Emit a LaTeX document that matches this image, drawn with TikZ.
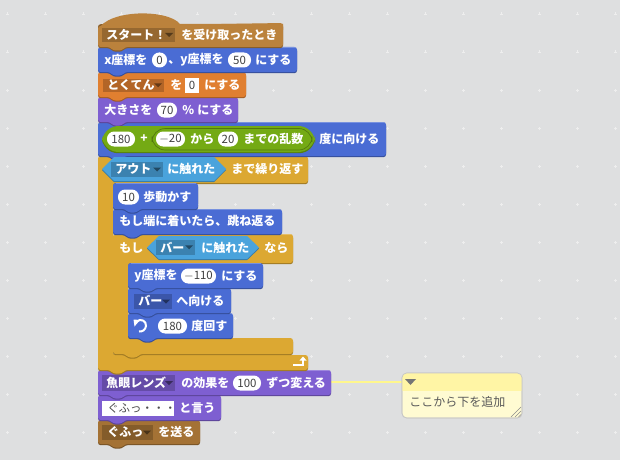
\documentclass[tikz,border=0pt]{standalone}
\usepackage{fontspec}
\setmainfont{Noto Sans CJK JP}
\usetikzlibrary{calc}
\definecolor{bgc}{HTML}{DEDFE0}
\definecolor{motion}{HTML}{4A6CD4}
\definecolor{looks}{HTML}{7E5FD1}
\definecolor{datac}{HTML}{E07F30}
\definecolor{control}{HTML}{DCA832}
\definecolor{events}{HTML}{BB823C}
\definecolor{oper}{HTML}{74AA14}
\definecolor{sensing}{HTML}{4AA3DC}
\definecolor{notehead}{HTML}{FFF5A5}
\definecolor{notebody}{HTML}{FFFBD2}
\definecolor{notegrey}{HTML}{666666}
\newcounter{lblno}
\tikzset{
  blocktxt/.style={anchor=west,inner sep=0pt,text=white,font=\bfseries\fontsize{9}{9}\selectfont},
  fieldtxt/.style={anchor=center,inner sep=0pt,text=black!75,font=\fontsize{8.6}{9}\selectfont},
  darktxt/.style={anchor=west,inner sep=0pt,text=black!70,font=\fontsize{8.6}{9}\selectfont},
  notetxt/.style={anchor=west,inner sep=0pt,text=black!65,font=\fontsize{9}{9}\selectfont}
}
% body path: colour, x0,y0,x1,y1
\newcommand{\stackpath}[4]{(#1,#2) -- (#3,#2) -- (#3,#4) -- (#1+27,#4) -- (#1+24,#4+3.5) -- (#1+15,#4+3.5) -- (#1+12,#4) -- (#1,#4) -- cycle}
\newcommand{\stackblk}[5]{%
  \fill[#1!72!black,rounded corners=2pt,yshift=-0.9pt] \stackpath{#2}{#3}{#4}{#5};
  \fill[#1,rounded corners=2pt] \stackpath{#2}{#3}{#4}{#5};
  \draw[#1!75!white,line width=.4pt] (#2+2.5,#3+.4) -- (#4-2.5,#3+.4);}
% C block: colour,x0,y0,x1,head bottom,foot top,foot bottom,armwidth,footx1
\newcommand{\cpath}[8]{(#1,#2) -- (#3,#2) -- (#3,#4) -- (#1+#7+27,#4) -- (#1+#7+24,#4+3.5) -- (#1+#7+15,#4+3.5) -- (#1+#7+12,#4) -- (#1+#7,#4) -- (#1+#7,#5) -- (#8,#5) -- (#8,#6) -- (#1+27,#6) -- (#1+24,#6+3.5) -- (#1+15,#6+3.5) -- (#1+12,#6) -- (#1,#6) -- cycle}
\newcommand{\cblk}[9]{%
  \fill[#1!72!black,rounded corners=2pt,yshift=-0.9pt] \cpath{#2}{#3}{#4}{#5}{#6}{#7}{#8}{#9};
  \fill[#1,rounded corners=2pt] \cpath{#2}{#3}{#4}{#5}{#6}{#7}{#8}{#9};
  \draw[#1!75!white,line width=.4pt] (#2+2.5,#3+.4) -- (#4-2.5,#3+.4);}
\newcommand{\lbl}[3]{\stepcounter{lblno}\node[blocktxt] (t\arabic{lblno}) at (#1,#2) {#3};}
% round number field: x0,x1,yc,text
\newcommand{\numf}[4]{\stepcounter{lblno}\fill[white,rounded corners=5.4pt] (#1,#3-7.5) rectangle (#2,#3+7.5);
  \node[fieldtxt] (t\arabic{lblno}) at ({(#1+#2)/2},#3) {#4};}
% dropdown: colour,x0,x1,y0,y1,tri x
\newcommand{\ddown}[6]{\fill[#1!80!black] (#2,#4) rectangle (#3,#5);
  \fill[#1!45!black] (#6-4,{(#4+#5)/2-2}) -- (#6+4,{(#4+#5)/2-2}) -- (#6,{(#4+#5)/2+2}) -- cycle;}
% hexagon: colour,x0,x1,y0,y1
\newcommand{\hexa}[5]{%
  \fill[#1!75!black,yshift=-0.9pt] (#2,{(#4+#5)/2}) -- (#2+12,#4) -- (#3-12,#4) -- (#3,{(#4+#5)/2}) -- (#3-12,#5) -- (#2+12,#5) -- cycle;
  \fill[#1] (#2,{(#4+#5)/2}) -- (#2+12,#4) -- (#3-12,#4) -- (#3,{(#4+#5)/2}) -- (#3-12,#5) -- (#2+12,#5) -- cycle;}
\begin{document}
\begin{tikzpicture}[x=.75pt,y=-.75pt]
\useasboundingbox (0,0) rectangle (620,460);
\fill[bgc] (0,0) rectangle (620,460);
% background crosses
\foreach \i in {0,...,16}{\foreach \j in {0,...,12}{
  \draw[white!78!bgc!96!black,line width=.3pt] ({\i*38+7-1.5},{\j*38+14}) -- ({\i*38+7+1.5},{\j*38+14});
  \draw[white!78!bgc!96!black,line width=.3pt] ({\i*38+7},{\j*38+14-1.5}) -- ({\i*38+7},{\j*38+14+1.5});
}}
% comment link
\coordinate (fishR) at (331,382);
\coordinate (noteL) at (402,382);
\draw[notehead!85!yellow,line width=1.4pt] (fishR) -- (noteL);
% comment
\fill[notebody,draw=black!22,line width=.5pt,rounded corners=3.5pt] (402,373) rectangle (522,418);
\begin{scope}
\clip[rounded corners=3.5pt] (402,373) rectangle (522,418);
\fill[notehead] (402,373) rectangle (522,391);
\end{scope}
\draw[black!22,line width=.5pt,rounded corners=3.5pt] (402,373) rectangle (522,418);
\fill[notegrey!90] (405,379) -- (416,379) -- (410.5,385) -- cycle;
\node[notetxt] (note) at (409,402) {ここから下を追加};
\draw[black!45,line width=.4pt] (511,417) -- (521,407) (515,417) -- (521,411) (518.5,417) -- (521,414.5);
% bottom to top stacking
\stackblk{events!88!black}{98}{420}{200}{444}
\stackblk{looks}{98}{395}{221}{420}
\stackblk{looks}{98}{370}{331}{395}
\cblk{control}{98}{156}{308}{183}{355}{370}{15}{308}
\cblk{control}{113}{234}{293}{263}{338}{354}{15}{293}
\stackblk{motion}{128}{313}{233}{338}
\stackblk{motion}{128}{288}{231}{313}
\stackblk{motion}{128}{263}{263}{288}
\stackblk{motion}{113}{209}{282}{234}
\stackblk{motion}{113}{183}{198}{209}
\stackblk{motion}{98}{122}{386}{156}
\stackblk{looks}{98}{97}{238}{122}
\stackblk{datac}{98}{72}{246}{97}
\stackblk{motion}{98}{47}{297}{72}
% hat
\fill[events!72!black,yshift=-0.9pt,rounded corners=2pt] (98,47) -- (98,23) -- (283,23) -- (283,47) -- (125,47) -- (122,50.5) -- (113,50.5) -- (110,47) -- cycle;
\fill[events] (98,30) .. controls (108,9) and (168,9) .. (180,24) -- (283,24) -- (283,30) -- cycle;
\fill[events,rounded corners=2pt] (98,47) -- (98,26) -- (283,23) -- (283,47) -- (125,47) -- (122,50.5) -- (113,50.5) -- (110,47) -- cycle;
% hat content
\ddown{events}{102}{175}{28}{42}{169}
\lbl{106}{35}{スタート！}
\lbl{181}{35}{を受け取ったとき}
% set xy
\lbl{104}{60}{x座標を}
\numf{152}{167}{60}{0}
\lbl{168}{60}{、y座標を}
\numf{228}{251}{60}{50}
\lbl{255}{60}{にする}
% data
\ddown{datac}{103}{164}{78.5}{92}{158}
\lbl{107}{85}{とくてん}
\lbl{170}{85}{を}
\fill[white] (185,78) rectangle (199,93);
\node[fieldtxt] (zero) at (192,85.5) {0};
\lbl{204}{85}{にする}
% size
\lbl{104}{110}{大きさを}
\numf{157}{177}{110}{70}
\lbl{182}{110}{\%}
\lbl{197}{110}{にする}
% direction
\fill[oper!75!black,rounded corners=12pt,yshift=-0.9pt] (102,126) rectangle (315,152);
\fill[oper,rounded corners=12.5pt] (102,126) rectangle (315,152);
\draw[oper!70!black,line width=.5pt,rounded corners=10pt,fill=oper] (152,128.5) rectangle (312,150);
\numf{107}{135}{139}{180}
\lbl{140}{139}{+}
\numf{156}{185}{139}{$-$20}
\lbl{190}{139}{から}
\numf{218}{238}{139}{20}
\lbl{243}{139}{までの乱数}
\lbl{319}{139}{度に向ける}
% repeat until
\hexa{sensing}{102}{226}{157}{181}
\ddown{sensing}{111}{163}{162}{177}{157}
\lbl{115}{169}{アウト}
\lbl{167}{169}{に触れた}
\lbl{231}{169}{まで繰り返す}
% move
\numf{118}{139}{197}{10}
\lbl{143}{197}{歩動かす}
\lbl{119}{221}{もし端に着いたら、跳ね返る}
% if
\lbl{119}{248}{もし}
\hexa{sensing}{147}{259}{236}{259}
\ddown{sensing}{156}{195}{239.5}{255}{189}
\lbl{160}{247.5}{バー}
\lbl{201}{247.5}{に触れた}
\lbl{264}{248}{なら}
% y
\lbl{134}{276}{y座標を}
\numf{181}{216}{276}{$-$110}
\lbl{221}{276}{にする}
% point towards
\ddown{motion}{134}{172}{294}{309}{166}
\lbl{138}{301}{バー}
\lbl{176}{301}{へ向ける}
% turn
\draw[white,line width=1.5pt] (136.5,321.5) .. controls (141,318) and (146.5,321) .. (146,326) .. controls (145.5,330) and (142,332) .. (139,331.5);
\fill[white] (133.5,319.5) -- (140,320) -- (134.5,326.5) -- cycle;
\numf{158}{187}{326}{180}
\lbl{191}{326}{度回す}
% loop arrow
\draw[white,line width=1.5pt] (293,364.5) -- (303,364.5) -- (303,360);
\fill[white] (299.5,360.5) -- (306.5,360.5) -- (303,356.5) -- cycle;
% fisheye
\ddown{looks}{102}{175}{375}{391}{169}
\lbl{106}{383}{魚眼レンズ}
\lbl{181}{383}{の効果を}
\numf{233}{261}{383}{100}
\lbl{266}{383}{ずつ変える}
% say
\fill[white] (102,401) rectangle (174,416);
\node[darktxt] (say) at (107,408) {ぐふっ・・・};
\lbl{179}{408}{と言う}
% broadcast
\ddown{events!88!black}{102}{153}{425}{440}{147}
\lbl{107}{432}{ぐふっ}
\lbl{158}{432}{を送る}
\end{tikzpicture}
\end{document}
